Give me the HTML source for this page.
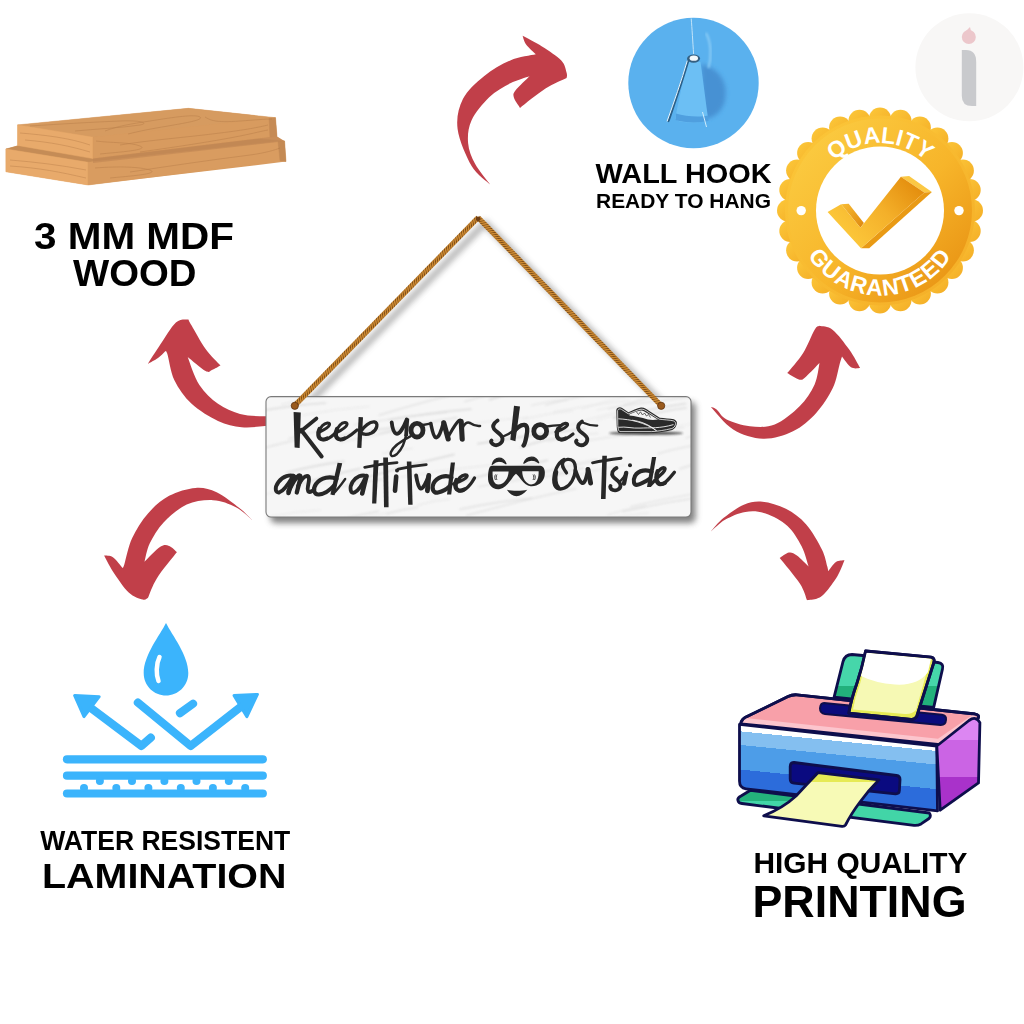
<!DOCTYPE html>
<html><head><meta charset="utf-8">
<style>
html,body{margin:0;padding:0;background:#fff;}
body{width:1024px;height:1024px;overflow:hidden;position:relative;font-family:"Liberation Sans",sans-serif;}
svg{position:absolute;left:0;top:0;}
</style></head><body>
<svg width="1024" height="1024" viewBox="0 0 1024 1024">
<defs>
 <linearGradient id="gBadge" x1="0" y1="0" x2="1" y2="1">
  <stop offset="0" stop-color="#fcd046"/><stop offset="0.55" stop-color="#f7b52a"/><stop offset="1" stop-color="#e58b0e"/>
 </linearGradient>
 <linearGradient id="gScal" x1="0" y1="0" x2="1" y2="1">
  <stop offset="0" stop-color="#fcc83a"/><stop offset="1" stop-color="#f4ad26"/>
 </linearGradient>
 <linearGradient id="gCheck" gradientUnits="userSpaceOnUse" x1="850" y1="240" x2="915" y2="180">
  <stop offset="0" stop-color="#fcc73a"/><stop offset="0.5" stop-color="#f4b02a"/><stop offset="1" stop-color="#e38c0c"/>
 </linearGradient>
 <linearGradient id="gCheckSide" x1="0" y1="0" x2="1" y2="1">
  <stop offset="0" stop-color="#f8bc34"/><stop offset="1" stop-color="#de880e"/>
 </linearGradient>
 <linearGradient id="gFront" x1="0" y1="0" x2="0" y2="1">
  <stop offset="0" stop-color="#8cc8f4"/><stop offset="0.35" stop-color="#5aa6ec"/><stop offset="1" stop-color="#3a78dc"/>
 </linearGradient>
 <filter id="blur3" x="-20%" y="-20%" width="140%" height="140%"><feGaussianBlur stdDeviation="3"/></filter>
 <filter id="blurS" x="-10%" y="-10%" width="120%" height="120%"><feGaussianBlur stdDeviation="0.8"/></filter>
 <filter id="blur1" x="-20%" y="-50%" width="140%" height="200%"><feGaussianBlur stdDeviation="1"/></filter>
 <filter id="blur2" x="-20%" y="-20%" width="140%" height="140%"><feGaussianBlur stdDeviation="2"/></filter>
 <path id="arcTop" d="M812.5,210.5 A67.5,67.5 0 0 1 947.5,210.5"/>
 <path id="arcBot" d="M795,210.5 A85,85 0 0 0 965,210.5"/>
</defs>

<!-- red arrows -->
<g fill="#c13f49"><path d="M490.1,184.4 C487.0,181.3 477.0,175.1 471.6,165.9 C466.2,156.7 459.1,140.1 457.6,129.0 C456.2,117.9 458.5,107.9 462.9,99.1 C467.3,90.3 476.1,82.7 484.0,76.2 C491.9,69.8 501.7,64.0 510.3,60.4 C518.9,56.8 531.5,55.3 535.8,54.3 C534.2,52.7 528.3,47.7 526.1,44.6 C523.9,41.5 523.2,37.3 522.6,35.8 C525.8,37.6 535.5,42.3 542.0,46.4 C548.5,50.5 557.2,56.0 561.3,60.4 C565.4,64.8 565.7,69.8 566.6,72.7 C567.5,75.6 566.6,77.1 566.6,78.0 C563.1,79.8 553.3,83.6 545.5,88.6 C537.7,93.6 524.2,104.7 520.0,107.9 C519.0,106.1 514.5,100.2 513.8,97.3 C513.1,94.4 513.0,93.8 515.6,90.3 C518.2,86.8 527.3,78.5 529.6,76.2 C526.4,77.4 517.0,79.8 510.3,83.3 C503.6,86.8 495.6,91.1 489.2,97.3 C482.8,103.5 475.1,112.6 471.6,120.2 C468.1,127.8 467.5,135.7 468.1,143.0 C468.7,150.3 471.5,157.2 475.2,164.1 C478.9,171.0 487.6,181.0 490.1,184.4Z"/><path d="M285.0,423.0 C281.7,423.5 272.2,425.3 265.0,426.0 C257.8,426.7 249.4,428.0 241.6,427.2 C233.8,426.4 226.3,424.9 218.0,421.0 C209.7,417.1 198.9,410.5 191.6,403.8 C184.3,397.0 178.4,388.6 174.4,380.3 C170.4,372.0 168.9,358.6 167.3,353.8 C165.7,348.9 165.4,351.8 165.0,351.4 C163.8,352.5 160.9,355.9 158.0,358.0 C155.1,360.1 149.5,362.9 147.8,363.9 C149.8,360.8 155.3,351.9 160.0,345.0 C164.7,338.1 171.2,326.8 175.9,322.5 C180.6,318.2 186.3,319.9 188.4,319.4 C188.9,320.4 188.7,320.7 191.6,325.6 C194.5,330.5 200.8,342.4 205.6,349.0 C210.4,355.6 218.0,362.8 220.5,365.5 C219.1,366.2 214.5,369.1 212.0,370.0 C209.5,370.9 209.7,373.2 205.6,371.0 C201.5,368.8 190.7,359.2 187.7,356.9 C189.6,361.6 194.3,377.2 199.4,385.0 C204.5,392.8 211.2,398.9 218.0,403.8 C224.8,408.6 232.2,411.8 240.0,413.9 C247.8,416.0 257.5,416.1 265.0,416.2 C272.5,416.4 281.7,415.2 285.0,415.0Z"/><path d="M710.8,407.1 C714.5,410.8 724.5,424.2 733.2,429.5 C741.9,434.8 753.1,438.4 763.1,438.7 C773.1,439.0 784.1,435.5 793.0,431.2 C801.9,426.9 809.6,420.1 816.2,412.9 C822.8,405.7 828.9,396.0 832.8,388.0 C836.7,380.0 838.0,370.1 839.5,364.8 C841.0,359.6 841.6,357.9 842.0,356.5 C843.5,358.3 848.0,365.4 851.0,367.3 C854.0,369.2 858.7,368.0 860.2,368.1 C858.4,365.1 854.0,356.2 849.4,349.8 C844.8,343.4 837.8,333.9 832.8,329.9 C827.8,325.9 821.7,326.5 819.5,325.8 C818.7,326.5 817.2,325.3 814.5,329.9 C811.8,334.5 807.5,346.0 803.0,353.2 C798.5,360.4 789.8,369.8 787.2,373.1 C789.3,374.2 796.4,379.1 799.6,379.7 C802.8,380.2 802.9,379.2 806.2,376.4 C809.6,373.6 817.3,365.3 819.5,363.1 C818.7,366.7 817.8,377.5 814.5,384.7 C811.2,391.9 806.2,399.7 799.6,406.3 C793.0,412.9 783.0,421.2 774.7,424.5 C766.4,427.8 757.8,427.0 749.8,426.2 C741.8,425.4 732.1,422.4 726.6,419.6 C721.1,416.8 719.2,411.7 716.6,409.6 C714.0,407.5 711.8,407.5 710.8,407.1Z"/><path d="M252.6,520.4 C250.4,518.4 245.4,512.8 239.4,508.1 C233.4,503.4 223.9,495.7 216.6,492.3 C209.3,488.9 203.4,487.3 195.5,487.9 C187.6,488.5 177.0,491.6 169.1,495.8 C161.2,500.1 154.2,506.4 148.0,513.4 C141.8,520.4 136.1,529.5 132.2,538.0 C128.2,546.5 125.9,559.4 124.3,564.4 C122.7,569.4 122.8,567.3 122.5,567.9 C120.9,566.1 116.0,559.3 112.9,557.3 C109.8,555.2 105.6,555.9 104.1,555.6 C105.6,558.2 108.8,565.2 112.9,571.4 C117.0,577.5 123.7,587.8 128.7,592.5 C133.7,597.2 139.5,598.6 142.7,599.5 C145.9,600.4 147.1,598.1 148.0,597.8 C149.5,594.6 152.0,586.0 156.8,578.4 C161.6,570.8 173.6,556.5 177.0,552.1 C175.7,551.1 171.9,546.8 169.1,545.9 C166.3,545.0 164.4,544.2 160.3,546.8 C156.2,549.4 147.1,559.2 144.5,561.7 C145.4,558.6 146.6,549.9 149.8,543.3 C153.0,536.7 157.7,528.7 163.8,522.2 C170.0,515.8 178.5,508.3 186.7,504.6 C194.9,500.9 204.8,499.8 213.0,500.2 C221.2,500.6 229.3,503.8 235.9,507.2 C242.5,510.6 249.8,518.2 252.6,520.4Z"/><path d="M710.9,531.4 C713.0,529.2 717.9,522.5 723.4,518.1 C728.9,513.7 737.2,507.5 743.8,504.8 C750.3,502.1 755.5,501.0 762.5,501.7 C769.5,502.4 778.6,505.0 785.9,508.8 C793.2,512.5 800.2,517.6 806.2,524.4 C812.2,531.2 818.4,542.4 821.9,549.4 C825.4,556.4 826.3,563.0 827.3,566.6 C828.3,570.2 828.0,570.5 828.1,571.2 C829.4,569.7 833.3,563.7 836.0,561.9 C838.7,560.1 843.1,560.6 844.5,560.3 C843.3,562.9 840.8,570.4 837.5,575.9 C834.2,581.4 828.4,589.3 825.0,593.1 C821.6,596.9 820.2,597.4 817.2,598.6 C814.2,599.8 808.7,599.9 807.0,600.2 C805.8,597.5 804.5,590.8 800.0,583.8 C795.5,576.7 783.1,562.3 779.7,558.0 C781.2,557.1 786.1,552.9 789.0,552.5 C791.9,552.1 793.6,553.2 796.9,555.6 C800.2,558.0 806.6,564.8 808.6,566.6 C807.4,563.2 805.1,553.0 801.6,546.2 C798.1,539.5 793.5,531.4 787.5,525.9 C781.5,520.4 772.6,515.7 765.6,513.4 C758.6,511.1 752.1,510.8 745.3,511.9 C738.5,513.0 730.7,516.5 725.0,519.7 C719.3,523.0 713.2,529.5 710.9,531.4Z"/></g>

<!-- wood boards -->
<g stroke-linejoin="round">
 <polygon points="5.9,149 17.6,145.4 17.6,124.9 188.4,108.3 275.5,117.7 277,136.6 284.6,141.2 286,161.6 88,185 5.9,171.8" fill="#d99c60"/>
 <!-- bottom board -->
 <polygon points="5.9,149 88,162.3 284.6,141.2 200,133 17.6,146" fill="#c58c56" stroke="#c58c56" stroke-width="0.5"/>
 <polygon points="5.9,149 88,162.3 88,185 5.9,171.8" fill="#e8aa6b" stroke="#e8aa6b" stroke-width="0.5"/>
 <polygon points="88,162.3 278,141.5 280,160.8 88,185" fill="#d99c60" stroke="#d99c60" stroke-width="0.5"/>
 <polygon points="278,141.5 284.6,141.2 286,161.6 280,160.8" fill="#c48a54" stroke="#c48a54" stroke-width="0.5"/>
 <!-- top board -->
 <polygon points="17.6,124.9 188.4,108.3 275.5,117.7 269,118.6 93,137.35" fill="#d69b60" stroke="#d69b60" stroke-width="0.5"/>
 <polygon points="17.6,124.9 93,137.35 93,158.6 17.6,145.4" fill="#e8aa6b" stroke="#e8aa6b" stroke-width="0.5"/>
 <polygon points="93,137.35 269,118.6 270,137 93,158.6" fill="#d89b5f" stroke="#d89b5f" stroke-width="0.5"/>
 <polygon points="269,118.6 275.5,117.7 277,136.6 270,137" fill="#c68b55" stroke="#c68b55" stroke-width="0.5"/>
 <polygon points="93,158.6 270,137 277,136.6 284.6,141.2 93,163" fill="#c08653" opacity="0.6"/>
 <g fill="none" stroke="#a86f3e" stroke-width="0.6" opacity="0.55">
  <path d="M30,126 C60,124 95,122 120,121 C140,120 150,123 140,125 C120,128 95,129 75,131"/>
  <path d="M105,131 C118,126 130,124 150,121 C175,117 195,114 200,117 C204,120 185,123 168,126 C150,129 140,131 128,134"/>
  <path d="M205,117 C210,120 215,123 240,121 C255,120 265,119 272,119"/>
  <path d="M120,145 C150,140 190,137 220,133 C245,130 260,127 268,125"/>
  <path d="M140,152 C175,147 210,142 240,136 C255,133 262,131 268,130"/>
  <path d="M96,141 C110,143 130,142 140,146 C150,150 120,152 100,154"/>
  <path d="M20,133 C45,135 70,138 90,145"/>
  <path d="M25,140 C50,142 70,146 90,152"/>
  <path d="M130,172 C170,166 210,160 250,155 C265,153 275,150 280,148"/>
  <path d="M95,168 C120,166 140,167 150,170 C160,174 130,176 110,178"/>
  <path d="M10,160 C35,162 60,165 86,170"/>
  <path d="M10,166 C40,168 60,172 86,178"/>
 </g>
</g>

<!-- wall hook -->
<circle cx="693.5" cy="83" r="65.2" fill="#5ab1ee"/>
<path d="M701,64 C712,66 724,74 725.5,90 C726.5,104 721,114 709,118.5 L703,117 Z" fill="#4690d2" filter="url(#blur2)" opacity="0.95"/>
<path d="M706,33 C711,42 712,56 708.5,68" stroke="#8ccdf6" stroke-width="2" fill="none" filter="url(#blur1)"/>
<path d="M687.5,62 L700.5,62 C703,80 705.5,100 708,118 C707,121.5 701,122.5 692,122.5 C684,122.5 677,121.5 675,119 C679,100 683,80 687.5,62 Z" fill="#6cbff4"/>
<path d="M676,113.5 C685,116.5 700,117.5 708,115.5 L708.5,121 C700,123 684,123 675.5,120 Z" fill="#4f9fdf"/>
<path d="M691.2,18.5 C692,28 692.8,42 693.6,54" stroke="#c2e4f9" stroke-width="1" fill="none"/>
<path d="M688.5,60 C683,79 675,102 668.5,121" stroke="#2a5f88" stroke-width="2.2" fill="none" stroke-linecap="round"/>
<path d="M687.2,61 C681.7,80 673.7,103 667.2,121" stroke="#eaf6fd" stroke-width="1" fill="none" stroke-linecap="round"/>
<path d="M702.5,112 L706.5,127" stroke="#d0ecfb" stroke-width="1" fill="none"/>
<ellipse cx="693.6" cy="58.6" rx="6.5" ry="4.2" fill="#355f80"/>
<ellipse cx="693.8" cy="58.2" rx="4.2" ry="2.6" fill="#f3f8fb"/>

<!-- i logo -->
<circle cx="969.4" cy="67.3" r="54" fill="#f8f7f6"/>
<path d="M961.8,50.1 L966,50.1 Q976.2,50.1 976.2,62 L976.2,106 L972,106 Q961.8,106 961.8,96 Z" fill="#c9cacd"/>
<circle cx="968.8" cy="37" r="7" fill="#ecc7cb"/>
<path d="M966,31 L970,27 L971,31 Z" fill="#ecc7cb"/>

<!-- badge -->
<g fill="url(#gScal)"><circle cx="880.0" cy="118.5" r="11"/><circle cx="900.5" cy="120.8" r="11"/><circle cx="919.9" cy="127.6" r="11"/><circle cx="937.4" cy="138.6" r="11"/><circle cx="951.9" cy="153.1" r="11"/><circle cx="962.9" cy="170.6" r="11"/><circle cx="969.7" cy="190.0" r="11"/><circle cx="972.0" cy="210.5" r="11"/><circle cx="969.7" cy="231.0" r="11"/><circle cx="962.9" cy="250.4" r="11"/><circle cx="951.9" cy="267.9" r="11"/><circle cx="937.4" cy="282.4" r="11"/><circle cx="919.9" cy="293.4" r="11"/><circle cx="900.5" cy="300.2" r="11"/><circle cx="880.0" cy="302.5" r="11"/><circle cx="859.5" cy="300.2" r="11"/><circle cx="840.1" cy="293.4" r="11"/><circle cx="822.6" cy="282.4" r="11"/><circle cx="808.1" cy="267.9" r="11"/><circle cx="797.1" cy="250.4" r="11"/><circle cx="790.3" cy="231.0" r="11"/><circle cx="788.0" cy="210.5" r="11"/><circle cx="790.3" cy="190.0" r="11"/><circle cx="797.1" cy="170.6" r="11"/><circle cx="808.1" cy="153.1" r="11"/><circle cx="822.6" cy="138.6" r="11"/><circle cx="840.1" cy="127.6" r="11"/><circle cx="859.5" cy="120.8" r="11"/><circle cx="880" cy="210.5" r="95"/></g>
<circle cx="880" cy="210.5" r="92" fill="url(#gBadge)"/>
<circle cx="880" cy="210.5" r="64" fill="#fff"/>
<circle cx="801.2" cy="210.6" r="4.7" fill="#fff"/>
<circle cx="959" cy="210.6" r="4.7" fill="#fff"/>
<g font-family="Liberation Sans" font-weight="bold" font-size="23" fill="#fff">
 <text text-anchor="middle"><textPath href="#arcTop" startOffset="50%">QUALITY</textPath></text>
 <text text-anchor="middle" letter-spacing="0.9"><textPath href="#arcBot" startOffset="50%">GUARANTEED</textPath></text>
</g>
<polygon points="841.1,204.3 848.7,203.7 863.9,223 860.4,227.7" fill="url(#gCheckSide)"/>
<polygon points="900.9,176.7 909.1,176.1 931.9,192 924.3,192.5" fill="#fbc844"/>
<polygon points="924.3,192.5 931.9,192 869.2,248.2 861,248.2" fill="#e99a14"/>
<polygon points="827.6,211.9 841.1,204.3 860.4,227.7 900.9,176.7 924.3,192.5 861,248.2" fill="url(#gCheck)"/>

<!-- water icon -->
<g fill="#3bb4fc" stroke="none">
 <path d="M166,622.9 C172,635 188.3,655 188.3,673 C188.3,686 178,695.5 166,695.5 C154,695.5 143.7,686 143.7,673 C143.7,655 160,635 166,622.9 Z"/>
</g>
<path d="M159.5,657 C156,664 156,675 158.5,681" stroke="#fff" stroke-width="4.5" stroke-linecap="round" fill="none"/>
<g stroke="#3bb4fc" stroke-width="8.2" stroke-linecap="round" stroke-linejoin="round" fill="none">
 <line x1="67" y1="759.3" x2="262.8" y2="759.3"/>
 <line x1="67" y1="775.7" x2="262.8" y2="775.7"/>
 <line x1="67" y1="793.5" x2="262.8" y2="793.5"/>
 <polyline points="150.8,737.7 141.4,745.9 85.2,703.75"/>
 <polyline points="137.9,702.6 190.6,745.9 249.2,700.2"/>
 <line x1="180" y1="713.1" x2="193" y2="703.75"/>
</g>
<g fill="#3bb4fc" stroke="#3bb4fc" stroke-width="3" stroke-linejoin="round">
 <polygon points="74.6,695.5 99.2,696.7 84,716.6"/>
 <polygon points="257.4,694.4 234,695.5 246.9,716.6"/>
</g>
<g fill="#3bb4fc">
 <circle cx="99.9" cy="781" r="4"/><circle cx="132" cy="781" r="4"/><circle cx="164.4" cy="781" r="4"/><circle cx="196.5" cy="781" r="4"/><circle cx="228.8" cy="781" r="4"/>
 <circle cx="84" cy="788.1" r="4"/><circle cx="116.3" cy="788.1" r="4"/><circle cx="148.4" cy="788.1" r="4"/><circle cx="180.8" cy="788.1" r="4"/><circle cx="212.9" cy="788.1" r="4"/><circle cx="245.2" cy="788.1" r="4"/>
</g>

<!-- printer -->

<defs>
 <linearGradient id="gTray" gradientUnits="userSpaceOnUse" x1="0" y1="654" x2="0" y2="707">
  <stop offset="0" stop-color="#46d6aa"/><stop offset="0.6" stop-color="#46d6aa"/><stop offset="0.6" stop-color="#22b07b"/><stop offset="1" stop-color="#22b07b"/>
 </linearGradient>
 <linearGradient id="gFrontB" gradientUnits="userSpaceOnUse" x1="745" y1="726" x2="738.6" y2="790">
  <stop offset="0" stop-color="#ffffff"/><stop offset="0.09" stop-color="#ffffff"/>
  <stop offset="0.09" stop-color="#84bff0"/><stop offset="0.30" stop-color="#84bff0"/>
  <stop offset="0.30" stop-color="#4d9de8"/><stop offset="0.68" stop-color="#4d9de8"/>
  <stop offset="0.68" stop-color="#2c6cdb"/><stop offset="1" stop-color="#2c6cdb"/>
 </linearGradient>
 <linearGradient id="gSide" gradientUnits="userSpaceOnUse" x1="0" y1="722" x2="0" y2="810">
  <stop offset="0" stop-color="#dc86f2"/><stop offset="0.2" stop-color="#dc86f2"/><stop offset="0.2" stop-color="#cb64e4"/><stop offset="0.62" stop-color="#cb64e4"/><stop offset="0.62" stop-color="#a932ca"/><stop offset="1" stop-color="#a932ca"/>
 </linearGradient>
 <linearGradient id="gBotTray" gradientUnits="userSpaceOnUse" x1="0" y1="790" x2="0" y2="826">
  <stop offset="0" stop-color="#24b27c"/><stop offset="0.3" stop-color="#24b27c"/><stop offset="0.3" stop-color="#42d5a7"/><stop offset="1" stop-color="#42d5a7"/>
 </linearGradient>
 <linearGradient id="gOutPaper" gradientUnits="userSpaceOnUse" x1="0" y1="772" x2="0" y2="826">
  <stop offset="0" stop-color="#e6ea55"/><stop offset="0.18" stop-color="#e6ea55"/><stop offset="0.18" stop-color="#f7fab6"/><stop offset="1" stop-color="#f7fab6"/>
 </linearGradient>
</defs>
<g stroke="#0e0e4c" stroke-width="2.8" stroke-linejoin="round">
 <path d="M834.1,697.1 L843,661.6 Q845,654.5 852,654.5 L938,662.5 Q944,663.5 942.5,669 L933.7,707.4 Z" fill="url(#gTray)"/>
 <path d="M741,722.5 Q742,719 746,717 L788,696.5 Q792,694.5 797,694.8 L975,714 Q980,715 978,718.5 L940,744.7 L741,723.8 Z" fill="#f8a0a9"/>
</g>
<polygon points="745,718 938,738.8 973.5,714.2 977.5,718.5 940,744.7 741,723.8" fill="#fcc5cd"/>
<path d="M741,722.5 Q742,719 746,717 L788,696.5 Q792,694.5 797,694.8 L975,714 Q980,715 978,718.5 L940,744.7 L741,723.8 Z" fill="none" stroke="#0e0e4c" stroke-width="2.8" stroke-linejoin="round"/>
<path d="M824,703 L942,714.8 Q946.5,715.5 946,720 Q945.5,725.2 940.5,725 L825,714 Q820,713.3 820,708.3 Q820.5,703 824,703 Z" fill="#0b0b7c" stroke="#0e0e4c" stroke-width="2"/>
<g stroke="#0e0e4c" stroke-width="2.8" stroke-linejoin="round">
 <path d="M865.6,651 L931,657.2 Q935,658 934,662 L917,715.5 Q915.5,719.5 911,719.3 L848.8,713.2 Q851,700 857,683 Q862,668 865.6,651 Z" fill="#e7eb55"/>
</g>
<path d="M866.5,653 L930.5,659 L916,710 Q912,714.5 905,714 L853,709.5 Q855,697 860,684 Q864,670 866.5,653 Z" fill="#f6f9b4"/>
<path d="M866.5,652.8 L931,658.8 L928,672 Q918,686 895,684.5 Q875,683 861,676 Q864,665 866.5,652.8 Z" fill="#ffffff"/>
<path d="M865.6,651 L931,657.2 Q935,658 934,662 L917,715.5 Q915.5,719.5 911,719.3 L848.8,713.2 Q851,700 857,683 Q862,668 865.6,651 Z" fill="none" stroke="#0e0e4c" stroke-width="2.8" stroke-linejoin="round"/>
<g stroke="#0e0e4c" stroke-width="2.8" stroke-linejoin="round">
 <path d="M738,800.6 Q737,798 741,796 L750.5,790.3 L929.3,813 Q931.5,816 929,818.5 L921.1,823.9 Q918,825.6 914,825.3 L742,803.5 Q738.5,803 738,800.6 Z" fill="url(#gBotTray)"/>
 <path d="M739.5,724.4 L936.8,746 L937.5,810.9 L746,788.8 Q739.5,788 739.5,781 Z" fill="url(#gFrontB)"/>
 <path d="M936.8,746 L969,720.5 Q976,715.5 979.9,722.7 L978.5,782.9 L940.2,810.2 Z" fill="url(#gSide)"/>
 <path d="M794,762.5 L896.5,775.5 Q900.2,776 900,780 L899.4,790.5 Q899.2,794 895.5,793.8 L794,783.2 Q790.2,782.8 790.2,779 L790.2,766.5 Q790.2,762.5 794,762.5 Z" fill="#0a0a80"/>
 <path d="M817.9,772.7 L879,779.8 Q868,791 860,802 Q851,814 845.5,825 Q844.5,826.5 842,826.3 L763.7,815.8 Q783,808 796,796 Q807,784 817.9,772.7 Z" fill="url(#gOutPaper)"/>
</g>

<!-- rope -->
<defs>
 <pattern id="ropePat" patternUnits="userSpaceOnUse" width="2.7" height="4" patternTransform="skewX(-35)">
  <rect width="2.7" height="4" fill="#cf8c34"/>
  <rect x="1.7" width="1" height="4" fill="#7e4c16"/>
 </pattern>
</defs>
<g filter="url(#blur3)" opacity="0.75">
 <polyline points="301,411 485,223 669,411" stroke="#8a8a8a" stroke-width="5.5" fill="none" stroke-linejoin="round"/>
</g>
<!-- sign -->
<rect x="270.5" y="402" width="425" height="121" rx="5" fill="#6a6a6a" filter="url(#blur3)" opacity="0.85"/>
<clipPath id="signClip"><rect x="266" y="396.6" width="425" height="120.4" rx="5"/></clipPath>
<rect x="266" y="396.6" width="425" height="120.4" rx="5" fill="#f6f6f6"/>
<g clip-path="url(#signClip)"><g fill="none" stroke-linecap="round" filter="url(#blurS)"><path d="M389.0,419.9 q41.0,-7.4 82.1,-10.8" stroke="#cccccc" stroke-width="1.09" opacity="0.69"/><path d="M658.5,430.4 q18.4,-5.4 36.9,-6.9" stroke="#d8d8d8" stroke-width="0.76" opacity="0.43"/><path d="M500.1,551.3 q40.2,-10.6 80.5,-17.2" stroke="#d8d8d8" stroke-width="0.57" opacity="0.42"/><path d="M341.7,486.8 q20.3,-5.8 40.7,-7.6" stroke="#cccccc" stroke-width="1.09" opacity="0.68"/><path d="M553.7,412.0 q37.8,-7.7 75.7,-11.4" stroke="#d0d0d0" stroke-width="0.61" opacity="0.68"/><path d="M524.7,476.9 q36.3,-10.9 72.5,-17.7" stroke="#d8d8d8" stroke-width="1.01" opacity="0.58"/><path d="M354.3,424.7 q46.2,-8.1 92.4,-12.3" stroke="#d8d8d8" stroke-width="0.83" opacity="0.84"/><path d="M575.5,442.5 q54.2,-9.5 108.4,-15.1" stroke="#cccccc" stroke-width="0.96" opacity="0.48"/><path d="M464.9,401.5 q41.7,-12.1 83.5,-20.2" stroke="#cccccc" stroke-width="1.13" opacity="0.57"/><path d="M401.1,477.0 q46.9,-8.1 93.8,-12.3" stroke="#cccccc" stroke-width="0.60" opacity="0.64"/><path d="M545.5,405.0 q43.1,-11.6 86.1,-19.3" stroke="#d8d8d8" stroke-width="1.59" opacity="0.54"/><path d="M417.5,505.3 q15.9,-5.1 31.8,-6.2" stroke="#d0d0d0" stroke-width="0.68" opacity="0.65"/><path d="M340.4,442.4 q44.5,-10.2 89.1,-16.4" stroke="#d8d8d8" stroke-width="1.51" opacity="0.44"/><path d="M446.6,485.7 q50.3,-14.6 100.7,-25.3" stroke="#cccccc" stroke-width="1.45" opacity="0.75"/><path d="M693.8,507.6 q30.2,-6.7 60.4,-9.5" stroke="#d4d4d4" stroke-width="0.59" opacity="0.52"/><path d="M347.3,475.0 q38.6,-8.2 77.1,-12.5" stroke="#d8d8d8" stroke-width="0.50" opacity="0.67"/><path d="M520.5,447.6 q20.0,-7.2 40.0,-10.3" stroke="#d0d0d0" stroke-width="1.55" opacity="0.63"/><path d="M640.7,552.1 q42.2,-10.8 84.4,-17.7" stroke="#d8d8d8" stroke-width="0.94" opacity="0.45"/><path d="M531.8,405.3 q17.7,-4.7 35.4,-5.4" stroke="#cccccc" stroke-width="0.68" opacity="0.70"/><path d="M287.1,488.5 q36.5,-11.9 72.9,-19.8" stroke="#d0d0d0" stroke-width="1.18" opacity="0.84"/><path d="M522.5,419.5 q25.1,-6.4 50.2,-8.8" stroke="#d0d0d0" stroke-width="0.90" opacity="0.46"/><path d="M464.5,556.3 q34.2,-7.8 68.4,-11.6" stroke="#cccccc" stroke-width="0.66" opacity="0.77"/><path d="M460.2,509.2 q35.7,-7.4 71.3,-10.9" stroke="#cccccc" stroke-width="1.55" opacity="0.47"/><path d="M489.9,399.5 q36.1,-12.0 72.2,-20.0" stroke="#cccccc" stroke-width="1.45" opacity="0.66"/><path d="M657.8,453.7 q23.9,-6.9 47.8,-9.9" stroke="#d4d4d4" stroke-width="1.05" opacity="0.71"/><path d="M602.7,520.1 q22.8,-5.6 45.6,-7.2" stroke="#d4d4d4" stroke-width="0.94" opacity="0.50"/><path d="M466.7,515.6 q54.6,-15.5 109.2,-26.9" stroke="#d4d4d4" stroke-width="1.02" opacity="0.75"/><path d="M680.0,468.8 q52.5,-16.6 105.0,-29.2" stroke="#cccccc" stroke-width="1.55" opacity="0.44"/><path d="M287.0,472.6 q28.5,-7.6 57.0,-11.2" stroke="#d0d0d0" stroke-width="1.58" opacity="0.64"/><path d="M540.4,526.9 q18.4,-6.2 36.8,-8.3" stroke="#d4d4d4" stroke-width="1.50" opacity="0.64"/><path d="M322.1,525.2 q28.3,-9.0 56.6,-14.0" stroke="#d8d8d8" stroke-width="1.57" opacity="0.63"/><path d="M581.9,409.0 q21.4,-8.0 42.7,-11.9" stroke="#d8d8d8" stroke-width="0.53" opacity="0.80"/><path d="M307.2,531.4 q54.2,-14.2 108.4,-24.4" stroke="#d4d4d4" stroke-width="0.89" opacity="0.41"/><path d="M607.7,514.9 q19.1,-6.6 38.2,-9.2" stroke="#d4d4d4" stroke-width="0.65" opacity="0.81"/><path d="M337.1,436.6 q26.7,-6.2 53.4,-8.5" stroke="#cccccc" stroke-width="1.15" opacity="0.67"/><path d="M623.7,405.0 q44.6,-13.8 89.2,-23.5" stroke="#d8d8d8" stroke-width="1.23" opacity="0.81"/><path d="M644.0,416.6 q21.1,-6.3 42.1,-8.5" stroke="#d4d4d4" stroke-width="1.46" opacity="0.70"/><path d="M597.0,419.7 q20.7,-6.5 41.3,-9.1" stroke="#d0d0d0" stroke-width="0.63" opacity="0.56"/><path d="M478.4,486.6 q46.4,-8.4 92.7,-12.7" stroke="#d4d4d4" stroke-width="1.12" opacity="0.50"/><path d="M259.4,411.1 q33.1,-6.1 66.2,-8.2" stroke="#d0d0d0" stroke-width="1.48" opacity="0.62"/><path d="M521.8,478.4 q35.5,-10.2 71.0,-16.4" stroke="#d8d8d8" stroke-width="1.00" opacity="0.65"/><path d="M353.9,481.3 q50.0,-15.4 100.1,-26.9" stroke="#d4d4d4" stroke-width="1.52" opacity="0.82"/><path d="M303.1,415.1 q32.7,-6.3 65.4,-8.6" stroke="#d0d0d0" stroke-width="0.76" opacity="0.51"/><path d="M379.3,415.2 q46.1,-14.5 92.2,-24.9" stroke="#cccccc" stroke-width="1.21" opacity="0.47"/><path d="M646.1,554.6 q23.8,-8.5 47.6,-13.0" stroke="#d8d8d8" stroke-width="0.94" opacity="0.48"/><path d="M547.2,431.9 q43.3,-14.1 86.5,-24.1" stroke="#d8d8d8" stroke-width="0.94" opacity="0.50"/><path d="M386.5,514.2 q15.8,-5.3 31.6,-6.6" stroke="#d0d0d0" stroke-width="0.98" opacity="0.59"/><path d="M478.0,443.7 q53.4,-9.4 106.9,-14.8" stroke="#d4d4d4" stroke-width="1.51" opacity="0.89"/><path d="M288.2,438.8 q16.6,-6.1 33.2,-8.1" stroke="#d4d4d4" stroke-width="0.80" opacity="0.81"/><path d="M630.8,506.5 q52.8,-11.8 105.7,-19.5" stroke="#d8d8d8" stroke-width="1.09" opacity="0.75"/><path d="M281.2,404.5 q42.5,-10.0 85.1,-16.0" stroke="#d0d0d0" stroke-width="0.58" opacity="0.72"/><path d="M608.7,408.8 q49.2,-8.4 98.5,-12.9" stroke="#d8d8d8" stroke-width="1.45" opacity="0.41"/><path d="M697.4,463.9 q51.6,-13.3 103.2,-22.7" stroke="#d4d4d4" stroke-width="0.55" opacity="0.87"/><path d="M685.8,438.2 q22.2,-8.0 44.5,-12.0" stroke="#d4d4d4" stroke-width="1.19" opacity="0.54"/><path d="M470.0,424.4 q28.9,-5.5 57.8,-7.1" stroke="#d0d0d0" stroke-width="0.78" opacity="0.41"/><path d="M472.6,556.4 q35.6,-7.7 71.1,-11.3" stroke="#d8d8d8" stroke-width="0.99" opacity="0.73"/><path d="M491.1,541.6 q53.8,-11.1 107.6,-18.2" stroke="#d4d4d4" stroke-width="0.74" opacity="0.57"/><path d="M622.9,511.6 q40.4,-9.5 80.9,-14.9" stroke="#d0d0d0" stroke-width="0.88" opacity="0.82"/><path d="M246.6,498.2 q50.2,-11.5 100.4,-19.0" stroke="#d8d8d8" stroke-width="0.56" opacity="0.84"/><path d="M548.4,441.5 q24.7,-6.1 49.4,-8.2" stroke="#d4d4d4" stroke-width="1.01" opacity="0.53"/><path d="M241.7,455.1 q28.2,-9.8 56.3,-15.6" stroke="#d0d0d0" stroke-width="0.86" opacity="0.88"/><path d="M382.4,453.8 q15.0,-4.7 30.1,-5.4" stroke="#d4d4d4" stroke-width="1.02" opacity="0.52"/><path d="M597.1,410.0 q47.7,-8.8 95.4,-13.6" stroke="#d8d8d8" stroke-width="1.15" opacity="0.41"/><path d="M380.0,433.4 q38.4,-9.9 76.8,-15.7" stroke="#d8d8d8" stroke-width="1.33" opacity="0.78"/><path d="M571.5,476.5 q26.4,-7.8 52.7,-11.5" stroke="#d8d8d8" stroke-width="0.66" opacity="0.77"/><path d="M613.6,418.0 q36.0,-9.2 71.9,-14.4" stroke="#d0d0d0" stroke-width="1.42" opacity="0.81"/><path d="M508.7,542.3 q42.3,-11.8 84.6,-19.5" stroke="#d0d0d0" stroke-width="0.75" opacity="0.42"/><path d="M533.1,553.3 q30.1,-7.8 60.1,-11.6" stroke="#d0d0d0" stroke-width="0.56" opacity="0.71"/><path d="M553.1,475.7 q15.1,-5.7 30.3,-7.5" stroke="#d0d0d0" stroke-width="1.32" opacity="0.73"/><path d="M270.4,516.6 q25.1,-5.3 50.2,-6.6" stroke="#d4d4d4" stroke-width="0.79" opacity="0.52"/></g></g>
<rect x="266" y="396.6" width="425" height="120.4" rx="5" fill="none" stroke="#7a7a7a" stroke-width="1.1"/>
<g fill="none" stroke="#272727" stroke-linecap="round" stroke-linejoin="round"><path d="M300.6,431.5 L316.5,418.5" stroke-width="3.58"/><path d="M301.2,430 L321.6,456.4" stroke-width="4.10"/><path d="M318.5,432.5 C323,430.5 329,427.5 329.5,424.8 C330,422 325.5,422.5 322.5,425.5 C318.5,429.5 317.5,436 320.5,438.8 C324,441.5 330,438 335,433.5" stroke-width="3.07"/><path d="M335,433.5 C340,431 346.5,427.5 347,424.5 C347.5,421.5 343,422 340,425 C336,429 335,436 338,438.8 C341.5,441.5 349,437 357,430" stroke-width="3.07"/><path d="M360.5,432 C364,426 370,421.5 374.5,422 C378.5,422.5 377.5,430 371.5,433 C367,435 363,434.5 360.5,432.5" stroke-width="3.33"/><path d="M391.7,422.4 C392.2,427 393,432 396,433.6 C399,435 403.5,428 406.8,419.5" stroke-width="3.84"/><path d="M406.2,434 C405,442 402,449 397,454 C393,457.5 389.5,456.5 391,452 C393,447 401,441 410.3,436.3" stroke-width="2.43"/><ellipse cx="417" cy="430.2" rx="6.0" ry="6.8" fill="none" stroke="#272727" stroke-width="4.8"/><path d="M423,425 C425.5,424.5 428,424 430.8,423.5" stroke-width="2.30"/><path d="M430.8,423.5 C432,429 433,436 435.5,437.5 C438.5,439 441.5,430 443.5,422.6" stroke-width="3.58"/><path d="M443.8,422.8 L448.2,439.0" stroke-width="5.12"/><path d="M448.6,436 C452,430 455.5,423.5 459,420.5 C460.5,419.3 461.8,420.5 461.3,423" stroke-width="3.07"/><path d="M461.2,421.5 L462.2,439.2" stroke-width="5.12"/><path d="M462,429 C464,424 467,421.5 470,423 C473,425 476,426.5 480,426" stroke-width="2.56"/><path d="M497.6,420.5 C494,423 492,426 494,429 C496,432 502,434 502.5,438.5 C503,443 498,446 494.5,445 C491.5,444 490.5,441.5 491.5,440.5" stroke-width="3.84"/><path d="M502,437 C506,435.5 510,433.5 513,431" stroke-width="2.30"/><path d="M513,433 C516,428 521,424.5 524.5,425 C528,425.5 527.5,431 526.5,436 C525.5,441 525,444 523.5,445.5" stroke-width="4.35"/><ellipse cx="540.2" cy="431.2" rx="6.4" ry="6.6" fill="none" stroke="#272727" stroke-width="4.8"/><path d="M546.5,426.5 C550,426 555,425.5 560.9,425.2" stroke-width="2.30"/><path d="M556,432 C561,430 567,427.5 567.5,425 C568,422.5 563.5,423 560.5,426 C556.5,430 555.5,436 558.5,439 C562,441.5 568,438 573,434" stroke-width="3.20"/><path d="M582,421.5 C578.5,424 577,427 579,430 C581,433 587,435 587.3,439 C587.5,443.5 583,446 579.5,445 C576.5,444 575.5,441.5 576.5,440.5" stroke-width="3.84"/><path d="M582.5,422.5 C587,424.5 592,425.8 597.2,425.6" stroke-width="2.30"/><path d="M294.2,476.2 C290,474.3 283,476 278.5,482 C274,488 275.5,493.5 279.5,492.3 C284.5,490.5 289.5,482 292.8,476.5" stroke-width="3.84"/><path d="M293.2,476 L288.5,493" stroke-width="4.61"/><path d="M288.5,491 C292,484 295.5,477.5 298.5,475.8 C300.5,474.8 301,476.5 300.2,479 L296.8,492.5" stroke-width="4.35"/><path d="M298,486 C301,480 304.5,476 307,476 C310,476 309,481 308,486 C307,490.5 308,493.5 312,491" stroke-width="3.84"/><path d="M336.5,479 C331,476 321,477 316,484 C312,490 314.5,495 319,494.5 C325,494 331,489 334.5,485" stroke-width="4.10"/><path d="M333,494 C337,490 341,485 345.2,479" stroke-width="2.30"/><path d="M366.5,476.2 C362,474.3 356,476.5 352.5,482 C349,488 350.5,494 354.5,492.5 C359,490.5 363.5,482 366,476.5" stroke-width="3.84"/><path d="M366.5,476 L362.2,493.5" stroke-width="4.61"/><path d="M364.7,467.3 C375,465.2 386,463.6 397,462.7" stroke-width="2.82"/><path d="M396.2,476.5 L395,490.8" stroke-width="4.61"/><path d="M398.3,469.2 C407,467.2 416,465.6 426.25,464.6" stroke-width="2.82"/><path d="M416.1,475.4 C417,481 418,487 420.5,488.5 C423,489.5 426.5,482 428.8,475.4" stroke-width="3.84"/><path d="M428.8,475.4 L427.4,490.8" stroke-width="4.86"/><path d="M451.5,477.5 C446,474.5 437,476.5 433.5,483.5 C431,489.5 434,493.5 438,492.5 C443,491.5 447,489 450,486" stroke-width="4.10"/><path d="M453.5,484 C459,482 466,479 467,476.5 C468,474 463,474.5 460,477.5 C455.5,482 454.5,488 458,490.5 C462,493 469,488 474.5,478" stroke-width="3.33"/><path d="M566.5,472.9 C564,469 561,466 563,462 C565,459 570,458.5 573,461 C577,465 575.5,475 572,481 C568,488 561,490.5 557,488 C552.5,485 553,475 556.5,468 C558.5,464 561,461 564,459.5" stroke-width="3.33"/><path d="M556,472 C554.5,478 555,485 558,487.5" stroke-width="4.61"/><path d="M575.4,470.3 C577,475 579,481 582,483 C585,484 587,476 588,469.5" stroke-width="3.84"/><path d="M588,469.5 L590.6,483" stroke-width="4.86"/><path d="M592.5,462.8 C601,461 611,459.5 621.1,458.25" stroke-width="2.82"/><path d="M616.5,468 C612.5,470 611,473.5 613,476.5 C615,479.5 620.5,481.5 620.5,485.5 C620.5,489.5 616,491 613,490 C610.5,489 609.7,487 610.5,486" stroke-width="3.84"/><path d="M619.5,482 C621.5,480 624,477 626,474" stroke-width="2.30"/><path d="M626.2,472.9 L624,483.5" stroke-width="4.35"/><path d="M651.5,472 C647.5,469.5 638.5,469.5 635,476 C632.5,481 634,485.5 637.5,484.8 C641.5,484 645.5,481.5 649.5,479" stroke-width="4.10"/><path d="M650.5,485 C654,481 658,477 661,474.5 C664,472 666,469 664.5,468 C662.5,467 658.5,470 657,474 C655,479 656.5,484 660,484.5 C664,485 669,479 674.4,472.2" stroke-width="3.33"/><path d="M319.5,429 C317.5,433 317.8,437.5 321,439 C323,440 325,439.5 327,438.5" stroke-width="4.10"/><path d="M337,429 C335,433 335.3,437.5 338.5,439 C340.5,440 342.5,439.5 344.5,438.5" stroke-width="4.10"/><path d="M558,429 C556,433 556.3,437.5 559.5,439 C561.5,440 563.5,439.5 565.5,438.5" stroke-width="4.10"/><path d="M456.5,480 C454.5,484 454.8,488.5 458,490 C460,491 462,490.5 464,489.5" stroke-width="4.10"/><path d="M657.5,471 C655.5,475 655.8,480.5 659,483.5 C661,484.5 663,484 665,483" stroke-width="3.84"/></g><polygon points="293.6,412.0 300.8,412.6 299.6,448.0 294.6,447.4" fill="#272727"/><polygon points="358.6,417.0 363.0,417.2 361.4,448.0 357.2,447.8" fill="#272727"/><polygon points="405.2,418.6 409.2,418.8 408.0,436.0 404.2,436.0" fill="#272727"/><polygon points="514.0,405.8 520.0,406.4 515.4,441.2 510.3,439.8" fill="#272727"/><polygon points="337.6,462.8 342.2,463.2 334.6,495.2 330.4,494.6" fill="#272727"/><polygon points="373.6,460.2 378.6,460.2 376.3,503.4 372.1,503.4" fill="#272727"/><polygon points="383.2,457.6 388.0,457.6 388.6,507.2 384.0,507.2" fill="#272727"/><polygon points="406.8,461.4 411.4,461.4 412.6,504.7 408.2,504.7" fill="#272727"/><polygon points="450.8,462.6 455.0,462.6 451.2,494.5 447.0,494.5" fill="#272727"/><polygon points="602.3,455.7 606.9,455.7 605.6,499.0 601.0,499.0" fill="#272727"/><polygon points="652.0,457.0 656.2,457.0 651.0,486.9 647.0,486.9" fill="#272727"/><circle cx="397" cy="470.4" r="2" fill="#272727"/><circle cx="630" cy="465.3" r="2" fill="#272727"/>

<path d="M492.2,464.3 C493.5,460 496.5,458.2 499,458.2 C501.8,458.2 504.5,460 506,463.8 C503.5,462 501.5,461.2 499,461.2 C496.5,461.2 494.5,462.3 492.2,464.3 Z" fill="#272727" stroke="#272727" stroke-width="1.2" stroke-linejoin="round"/>
<path d="M523.8,463.2 C525.5,459 528.8,457.2 531.6,457.2 C534.5,457.2 537.2,459 538.7,462.8 C536.2,461 534,460.2 531.6,460.2 C529,460.2 526.5,461.3 523.8,463.2 Z" fill="#272727" stroke="#272727" stroke-width="1.2" stroke-linejoin="round"/>
<path d="M491.5,465.8 L540.5,465.8 C544.5,466.5 545.5,471.5 544.6,476 C543.2,482.5 537.5,486.8 530.5,486.2 C523.5,485.5 519.5,476 516,473.8 C512.5,476 508,487.5 500,489 C493,490.3 487.6,485 488,477 C488.3,471 489,466.3 491.5,465.8 Z" fill="#272727"/>
<path d="M492.6,471.6 L508.6,471.6 C508.4,478.5 504,484.6 498.4,484.6 C494.2,484.6 492.2,480 492.6,471.6 Z" fill="#f4f4f4"/>
<path d="M522.2,471.2 L538.6,471.2 C539,477 537,484.4 531.2,484.4 C526.2,484.4 522.2,478 522.2,471.2 Z" fill="#f4f4f4"/>
<g fill="none" stroke="#444" stroke-width="1">
 <path d="M495.5,474.5 C494.5,476 494.5,478.5 495.5,480"/><path d="M497,474.5 C496,476 496,478.5 497,480"/>
 <path d="M534.5,474.5 C535.5,476 535.5,478.5 534.5,480"/><path d="M533,474.5 C534,476 534,478.5 533,480"/>
</g>
<path d="M506.9,489.7 C512,491 522,491 527.3,489.7 C524,494 520,496.2 516.5,496.2 C513,496.2 509.5,494 506.9,489.7 Z" fill="#272727"/>


<ellipse cx="646" cy="433.2" rx="37" ry="1.8" fill="#333" filter="url(#blur1)" opacity="0.85"/>
<path d="M616.7,425.8 L616.3,410 C616.8,407.3 620,406.6 622.2,408 L628.4,412.3 C632,410.8 637,408.3 641,407.6 C644,407.3 646.2,408.8 648.9,410.8 L659.8,417.8 C664,418.3 670,418.6 673.9,419.3 C676.3,420.3 677.3,422 676.8,424 C676.2,427 674.2,429.2 672.3,429.9 C665,431.7 658,432.7 651.9,433 L619,433 C617.4,432.2 616.8,429 616.7,425.8 Z" fill="#2a2a2a"/>
<path d="M617.8,425.5 L617.6,410.6 C618,408.8 619.8,408.4 621.5,409.4 L628.3,413.8 C632.5,412.3 637.5,409.8 641,409.2 C643.5,409 645.5,410.2 648,412 L659.2,419.2 C664,419.8 669.5,420 673.3,420.8 C675.3,421.6 675.8,423 675.5,424.3 C675,426.5 673.5,428 671.8,428.5 C664.5,430.3 657.5,431.3 651.8,431.6 L619.8,431.6 C618.5,430.8 617.9,428.3 617.8,425.5 Z" fill="none" stroke="#f2f2f2" stroke-width="0.8"/>
<path d="M629.5,414.2 C634,412.5 638,410.5 641.2,410.4 C644.5,410.8 652,416 658,419.6 C654,420 651,420 648,419.5 C641,417.5 635,416 629.5,415.5 Z" fill="#f2f2f2"/>
<g fill="none" stroke="#2a2a2a" stroke-width="0.7"><path d="M636.5,412 L638.5,414.5 L640.5,411.8 L642.5,415 L644.5,413 L646.5,416 L648.5,414.5 L650.5,417.5"/></g>
<g fill="none" stroke="#f2f2f2" stroke-width="0.9">
 <path d="M618.3,418.8 C630,419.3 645,422.3 656.8,430.8"/>
 <path d="M632,420.2 C641,421.2 650,425.2 655.5,430.2"/>
 <path d="M618.3,427.3 C626,426.3 632,428.6 640,428.1 C650,427.6 660,428.6 673.5,424.6"/>
</g>

<!-- rope ends on sign -->
<g transform="translate(294.4,405.9) rotate(-45.71)"><rect x="0" y="-2.6" width="263.2" height="5.2" fill="url(#ropePat)"/></g>
<g transform="translate(478.1,217.6) rotate(45.76)"><rect x="0" y="-2.6" width="262.9" height="5.2" fill="url(#ropePat)"/></g>
<circle cx="478.1" cy="218.8" r="2.4" fill="#6e3e14"/>


<circle cx="294.8" cy="405.8" r="3.6" fill="#9a5a1c" stroke="#5e3410" stroke-width="0.8"/>
<circle cx="661.2" cy="405.8" r="3.6" fill="#9a5a1c" stroke="#5e3410" stroke-width="0.8"/>

<!-- texts -->
<g font-family="Liberation Sans" font-weight="bold" fill="#000">
 <text x="34" y="248.75" font-size="37" textLength="200" lengthAdjust="spacingAndGlyphs">3 MM MDF</text>
 <text x="73" y="286.2" font-size="37.5" textLength="123.5" lengthAdjust="spacingAndGlyphs">WOOD</text>
 <text x="595.6" y="183.4" font-size="27.3" textLength="176" lengthAdjust="spacingAndGlyphs">WALL HOOK</text>
 <text x="596" y="208.4" font-size="20.3" textLength="175" lengthAdjust="spacingAndGlyphs">READY TO HANG</text>
 <text x="40.3" y="849.8" font-size="26.8" textLength="250" lengthAdjust="spacingAndGlyphs">WATER RESISTENT</text>
 <text x="42" y="887.6" font-size="35.8" textLength="244.5" lengthAdjust="spacingAndGlyphs">LAMINATION</text>
 <text x="753.5" y="872.5" font-size="29.3" textLength="214" lengthAdjust="spacingAndGlyphs">HIGH QUALITY</text>
 <text x="752.5" y="917.2" font-size="44.3" textLength="214" lengthAdjust="spacingAndGlyphs">PRINTING</text>
</g>
</svg>
</body></html>
